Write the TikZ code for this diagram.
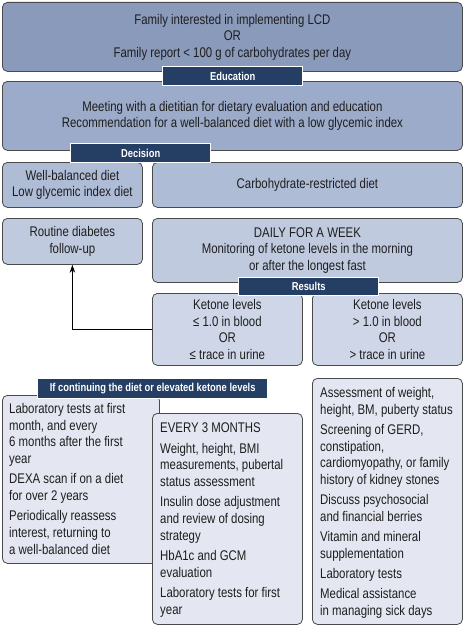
\documentclass[tikz,border=0pt]{standalone}
\usepackage{fontspec}
\setmainfont{Liberation Sans}[FakeStretch=0.815]
\usetikzlibrary{arrows.meta}
\definecolor{cA}{HTML}{8A9ABB}
\definecolor{cB}{HTML}{9CABC9}
\definecolor{cC}{HTML}{AFBCD6}
\definecolor{cD}{HTML}{BFCADF}
\definecolor{cE}{HTML}{CFD6E8}
\definecolor{cF}{HTML}{E4E7F1}
\definecolor{navy}{HTML}{243E64}
\definecolor{edge}{HTML}{4A4A4A}
\definecolor{ink}{HTML}{1E1E1E}
\newcommand\bodyfont{\fontsize{14}{16.5}\selectfont}
\newcommand\colfont{\fontsize{14}{16.8}\selectfont}
\newcommand\tagfont{\bfseries\fontsize{11.5}{13}\selectfont}
\tikzset{
  box/.style={draw=edge, line width=0.8pt, rounded corners=5pt, inner sep=0pt,
    anchor=north west, align=center, font=\bodyfont, text=ink},
  tag/.style={fill=navy, draw=white, line width=1.4pt, text=white, font=\tagfont,
    inner sep=0pt, anchor=north west},
  coltext/.style={anchor=north west, align=left, inner sep=0pt, font=\colfont, text=ink},
  arr/.style={draw=black, line width=0.8pt, -{Stealth[length=8pt,width=5.5pt]}},
}
\begin{document}
\begin{tikzpicture}[x=1pt,y=-1pt]
\useasboundingbox[fill=white] (0,0) rectangle (464,626);
% row 1-2
\node[box, fill=cA, minimum width=460, minimum height=69] (fam) at (2,2)
  {Family interested in implementing LCD\\ OR\\ Family report < 100 g of carbohydrates per day};
\node[box, fill=cB, minimum width=460, minimum height=69] (meet) at (2,81)
  {Meeting with a dietitian for dietary evaluation and education\\ Recommendation for a well-balanced diet with a low glycemic index};
\node[tag, minimum width=140, minimum height=19] (edu) at (162,66) {Education};
% row 3
\node[box, fill=cC, minimum width=140, minimum height=45] (wb) at (2,162)
  {Well-balanced diet\\ Low glycemic index diet};
\node[box, fill=cC, minimum width=310, minimum height=45] (carb) at (152,162)
  {Carbohydrate-restricted diet};
\node[tag, minimum width=140, minimum height=19] (dec) at (70,143) {Decision};
% row 4
\node[box, fill=cD, minimum width=140, minimum height=46] (rout) at (2,218)
  {Routine diabetes\\ follow-up};
\node[box, fill=cD, minimum width=310, minimum height=64] (daily) at (152,218)
  {DAILY FOR A WEEK\\ Monitoring of ketone levels in the morning\\ or after the longest fast};
% row 5
\node[box, fill=cE, minimum width=150, minimum height=72] (kl) at (152,293)
  {Ketone levels\\ ≤ 1.0 in blood\\ OR\\ ≤ trace in urine};
\node[box, fill=cE, minimum width=150, minimum height=72] (kr) at (312,293)
  {Ketone levels\\ > 1.0 in blood\\ OR\\ > trace in urine};
\node[tag, minimum width=140, minimum height=18] (res) at (238,277) {Results};
\draw[arr] (kl.west) -- (kl.west -| rout.south) -- (rout.south);
% bottom
\node[box, fill=cF, minimum width=157, minimum height=168] (labbox) at (2,395) {};
\node[coltext] (labtxt) at (9,403)
  {Laboratory tests at first\\ month, and every\\ 6 months after the first\\ year\\[3.3pt]
   DEXA scan if on a diet\\ for over 2 years\\[3.3pt]
   Periodically reassess\\ interest, returning to\\ a well-balanced diet};
\node[tag, minimum width=230, minimum height=20] (cont) at (37,378) {If continuing the diet or elevated ketone levels};
\node[box, fill=cF, minimum width=150, minimum height=211] (mid) at (152,413) {};
\node[coltext] (midtxt) at (160,423)
  {EVERY 3 MONTHS\\[3.3pt]
   Weight, height, BMI\\ measurements, pubertal\\ status assessment\\[3.3pt]
   Insulin dose adjustment\\ and review of dosing\\ strategy\\[3.3pt]
   HbA1c and GCM\\ evaluation\\[3.3pt]
   Laboratory tests for first\\ year};
\node[box, fill=cF, minimum width=150, minimum height=246] (rgt) at (312,378) {};
\node[coltext] (rgttxt) at (320,387)
  {Assessment of weight,\\ height, BM, puberty status\\[3.3pt]
   Screening of GERD,\\ constipation,\\ cardiomyopathy, or family\\ history of kidney stones\\[3.3pt]
   Discuss psychosocial\\ and financial berries\\[3.3pt]
   Vitamin and mineral\\ supplementation\\[3.3pt]
   Laboratory tests\\[3.3pt]
   Medical assistance\\ in managing sick days};
\end{tikzpicture}
\end{document}
